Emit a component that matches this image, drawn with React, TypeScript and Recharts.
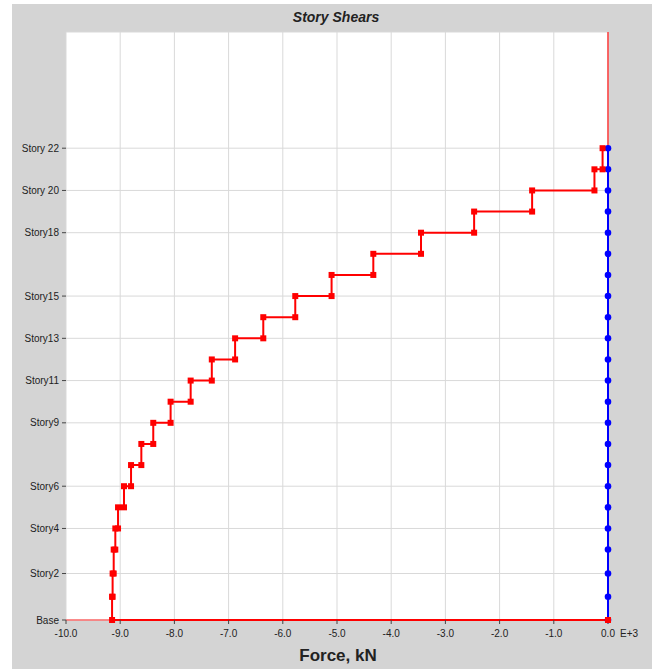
import React from 'react';
import {
  LineChart,
  Line,
  XAxis,
  YAxis,
  CartesianGrid,
} from 'recharts';

// Story elevations (m), Base .. Story22
const storyElevations = [
  0, 3.3, 6.6, 10, 13, 16, 19, 22, 25, 28, 31, 34,
  37, 40, 43, 46, 49, 52, 55, 58, 61, 64, 67,
];

// Story shear (x1000 kN) for Story1 .. Story22
const storyShears = [
  -9.15, -9.14, -9.12, -9.09, -9.04, -8.93, -8.8, -8.61, -8.39, -8.07, -7.7,
  -7.31, -6.88, -6.36, -5.77, -5.1, -4.33, -3.45, -2.47, -1.4, -0.25, -0.1,
];

// Labelled stories on the vertical axis
const yTickValues = [0, 6.6, 13, 19, 28, 34, 40, 46, 55, 61, 67];
const yTickLabels = [
  'Base', 'Story2', 'Story4', 'Story6', 'Story9', 'Story11',
  'Story13', 'Story15', 'Story18', 'Story 20', 'Story 22',
];

const xTicks = [-10, -9, -8, -7, -6, -5, -4, -3, -2, -1, 0];
const yTop = 83.5;

const FONT = '"Liberation Sans", Arial, sans-serif';

// step line: each story's shear is held between its floor and ceiling
const redPoints: { x: number; y: number }[] = [];
for (let k = storyShears.length; k >= 1; k--) {
  redPoints.push({ x: storyShears[k - 1], y: storyElevations[k] });
  redPoints.push({ x: storyShears[k - 1], y: storyElevations[k - 1] });
}
redPoints.push({ x: 0, y: 0 });

const bluePoints = storyElevations.map(e => ({ x: 0, y: e }));

// zero axes drawn in red, like the original plot
const zeroVertical = [{ x: 0, y: 0 }, { x: 0, y: yTop }];
const zeroHorizontal = [{ x: xTicks[0], y: 0 }, { x: 0, y: 0 }];

const SquareDot = (props: any) => {
  const { cx, cy, index } = props;
  if (cx == null || cy == null) return <g key={`sq-${index}`} />;
  return <rect key={`sq-${index}`} x={cx - 3} y={cy - 3} width={6} height={6} fill="#ff0000" />;
};

const RoundDot = (props: any) => {
  const { cx, cy, index } = props;
  if (cx == null || cy == null) return <g key={`rd-${index}`} />;
  return <circle key={`rd-${index}`} cx={cx} cy={cy} r={3.3} fill="#0000ff" />;
};

const formatY = (v: number) => {
  const i = yTickValues.indexOf(v);
  return i >= 0 ? yTickLabels[i] : '';
};

export default function App() {
  return (
    <div style={styles.page}>
      <div style={styles.panel} />
      <div style={styles.chartWrap}>
        <LineChart
          width={652}
          height={671}
          margin={{ top: 32, right: 44, bottom: 21, left: 0 }}
        >
          <CartesianGrid stroke="#d9d9d9" fill="#ffffff" strokeWidth={1} />
          <XAxis
            type="number"
            dataKey="x"
            domain={[-10, 0]}
            ticks={xTicks}
            tickFormatter={(v: number) => v.toFixed(1)}
            tick={{ fontSize: 10, fill: '#222', fontFamily: FONT }}
            axisLine={false}
            tickLine={{ stroke: '#444' }}
            tickSize={4}
            tickMargin={6}
            height={30}
          />
          <YAxis
            type="number"
            dataKey="y"
            domain={[0, yTop]}
            ticks={yTickValues}
            tickFormatter={formatY}
            tick={{ fontSize: 10, fill: '#222', fontFamily: FONT }}
            axisLine={false}
            tickLine={{ stroke: '#444' }}
            tickSize={4}
            tickMargin={3}
            width={66}
            interval={0}
          />
          <Line
            data={zeroVertical}
            dataKey="y"
            type="linear"
            stroke="#ff3b3b"
            strokeWidth={1.5}
            dot={false}
            activeDot={false}
            isAnimationActive={false}
          />
          <Line
            data={zeroHorizontal}
            dataKey="y"
            type="linear"
            stroke="#ff6b6b"
            strokeWidth={1.5}
            dot={false}
            activeDot={false}
            isAnimationActive={false}
          />
          <Line
            data={bluePoints}
            dataKey="y"
            type="linear"
            stroke="#0000ff"
            strokeWidth={2}
            dot={RoundDot}
            activeDot={false}
            isAnimationActive={false}
          />
          <Line
            data={redPoints}
            dataKey="y"
            type="linear"
            stroke="#ff0000"
            strokeWidth={2}
            dot={SquareDot}
            activeDot={false}
            isAnimationActive={false}
          />
        </LineChart>
      </div>
      <div style={styles.title}>Story Shears</div>
      <div style={styles.xLabel}>Force, kN</div>
      <div style={styles.exp}>E+3</div>
    </div>
  );
}

const styles: Record<string, React.CSSProperties> = {
  page: {
    position: 'absolute',
    left: 0,
    top: 0,
    width: 652,
    height: 671,
    background: '#ffffff',
    fontFamily: FONT,
    overflow: 'hidden',
  },
  panel: {
    position: 'absolute',
    left: 12,
    top: 4,
    width: 640,
    height: 665,
    background: '#d4d4d4',
  },
  chartWrap: {
    position: 'absolute',
    left: 0,
    top: 0,
  },
  title: {
    position: 'absolute',
    left: 236,
    width: 200,
    top: 9,
    textAlign: 'center',
    fontSize: 14,
    fontWeight: 'bold',
    fontStyle: 'italic',
    color: '#222',
  },
  xLabel: {
    position: 'absolute',
    left: 238,
    width: 200,
    top: 646,
    textAlign: 'center',
    fontSize: 17,
    fontWeight: 'bold',
    color: '#222',
  },
  exp: {
    position: 'absolute',
    left: 620,
    top: 628,
    fontSize: 10,
    color: '#222',
  },
};
